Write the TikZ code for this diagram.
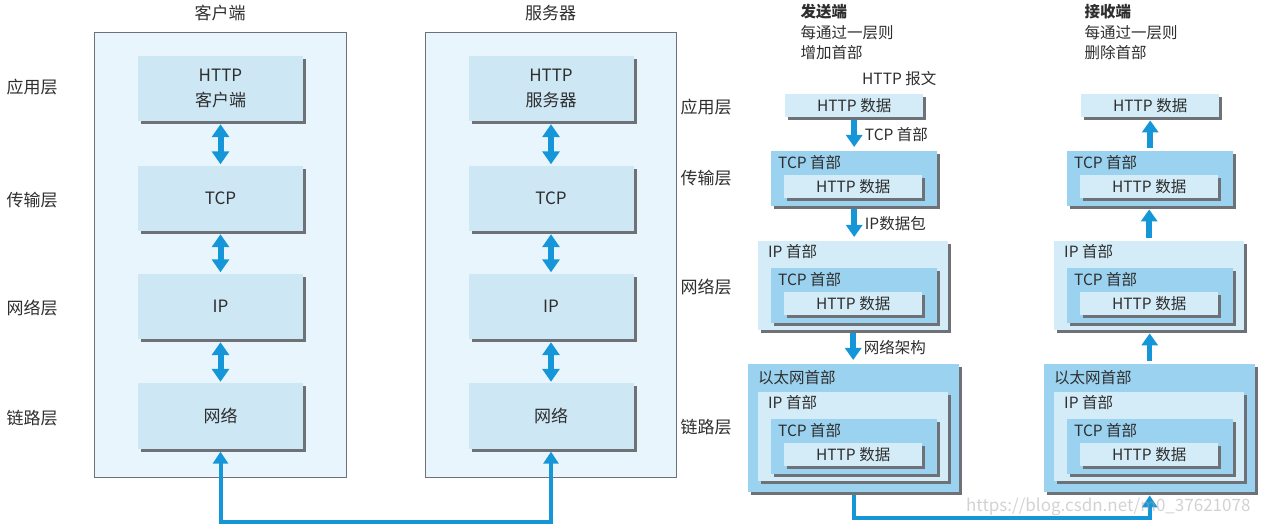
\documentclass[tikz,border=0pt]{standalone}
\usepackage{fontspec}
\setmainfont{Noto Sans CJK SC}
\usepackage{tikz}
\usetikzlibrary{arrows.meta,calc,positioning,shadows}

\definecolor{panelfill}{HTML}{E9F5FC}
\definecolor{layerfill}{HTML}{CDE7F5}
\definecolor{lightpkt}{HTML}{D3ECF8}
\definecolor{darkpkt}{HTML}{9BD2EF}
\definecolor{flowblue}{HTML}{1596D8}
\definecolor{shadowgray}{HTML}{6E7276}
\definecolor{txtgray}{HTML}{2E2E2E}

\begin{document}
\begin{tikzpicture}[x=1pt,y=-1pt,
  every node/.style={text=txtgray},
  panel/.style={draw=shadowgray,line width=0.9pt,fill=panelfill,minimum width=252pt,minimum height=445pt,inner sep=0pt},
  boxshadow/.style={drop shadow={shadow xshift=3pt,shadow yshift=-3pt,fill=shadowgray,opacity=1}},
  layer/.style={boxshadow,fill=layerfill,minimum width=165pt,minimum height=65pt,inner sep=0pt,align=center,font=\fontsize{17}{25}\selectfont},
  big/.style={font=\fontsize{17}{20}\selectfont},
  small/.style={font=\fontsize{15.5}{20.5}\selectfont},
  pkt/.style={boxshadow,anchor=north west,inner sep=0pt,small},
  httpbox/.style={pkt,fill=lightpkt,minimum width=138pt,minimum height=23pt},
  tcpbox/.style={pkt,fill=darkpkt,minimum width=166pt,minimum height=55pt},
  ipbox/.style={pkt,fill=lightpkt,minimum width=190pt,minimum height=89pt},
  ethbox/.style={pkt,fill=darkpkt,minimum width=211pt,minimum height=128pt},
  hdr/.style={anchor=west,inner sep=0pt,small},
  dbl/.style={draw=flowblue,line width=6pt,{Triangle[width=17pt,length=13pt]}-{Triangle[width=17pt,length=13pt]},shorten <=3pt,shorten >=1.5pt},
  flow/.style={draw=flowblue,line width=5.5pt,-{Triangle[width=16pt,length=12pt]},shorten <=3pt,shorten >=4pt},
  link/.style={draw=flowblue,line width=4pt,-{Triangle[width=15pt,length=12pt]},shorten <=3pt,shorten >=3pt}
]
\useasboundingbox (0,0) rectangle (1262,529);

% client and server
\node[panel] (client) at (220,254.5) {};
\node[panel,minimum width=251pt] (server) at (550.5,254.5) {};
\node[big] (clientT) at (220,13) {客户端};
\node[big] (serverT) at (550.5,13) {服务器};

\node[layer] (cH) at (220.5,88.5) {HTTP\\客户端};
\node[layer] (cT) at (220.5,198.5) {TCP};
\node[layer] (cI) at (220.5,306.5) {IP};
\node[layer] (cN) at (220.5,416) {网络};
\node[layer] (sH) at (551,88.5) {HTTP\\服务器};
\node[layer] (sT) at (551,198.5) {TCP};
\node[layer] (sI) at (551,306.5) {IP};
\node[layer] (sN) at (551,416) {网络};

\node[big] (appL) at (32,87) {应用层};
\node[big] (trnL) at (32,200) {传输层};
\node[big] (netL) at (32,308) {网络层};
\node[big] (lnkL) at (32,418) {链路层};
\node[big] (appR) at (706,107) {应用层};
\node[big] (trnR) at (706,178) {传输层};
\node[big] (netR) at (706,287) {网络层};
\node[big] (lnkR) at (706,427) {链路层};

\draw[dbl] (cH) -- (cT);
\draw[dbl] (cT) -- (cI);
\draw[dbl] (cI) -- (cN);
\draw[dbl] (sH) -- (sT);
\draw[dbl] (sT) -- (sI);
\draw[dbl] (sI) -- (sN);

\coordinate (lbase) at (0,522);
\draw[link,{Triangle[width=15pt,length=12pt]}-{Triangle[width=15pt,length=12pt]}] (cN.south) -- (cN.south |- lbase) -| (sN.south);

% sender
\node[small,anchor=north west,align=left] (sNote) at (797,1) {\textbf{发送端}\\每通过一层则\\增加首部};
\node[hdr] (msgL) at (862,79) {HTTP 报文};

\node[httpbox] (pH) at (785,94) {HTTP 数据};

\node[tcpbox] (pT) at (771,151) {};
\node[hdr] at ($(pT.north west)+(7,12)$) {TCP 首部};
\node[httpbox] (pTH) at ($(pT.north west)+(13,24)$) {HTTP 数据};

\node[ipbox] (pI) at (758,241) {};
\node[hdr] at ($(pI.north west)+(10,11)$) {IP 首部};
\node[tcpbox] (pIT) at ($(pI.north west)+(13,27)$) {};
\node[hdr] at ($(pIT.north west)+(7,12)$) {TCP 首部};
\node[httpbox] (pITH) at ($(pIT.north west)+(13,24)$) {HTTP 数据};

\node[ethbox] (pE) at (748,364) {};
\node[hdr] at ($(pE.north west)+(10,14)$) {以太网首部};
\node[ipbox] (pEI) at ($(pE.north west)+(10,28)$) {};
\node[hdr] at ($(pEI.north west)+(10,11)$) {IP 首部};
\node[tcpbox] (pEIT) at ($(pEI.north west)+(13,27)$) {};
\node[hdr] at ($(pEIT.north west)+(7,12)$) {TCP 首部};
\node[httpbox] (pEITH) at ($(pEIT.north west)+(13,24)$) {HTTP 数据};

\draw[flow] (pH.south) -- node[hdr,right=8pt] {TCP 首部} (pH.south |- pT.north);
\draw[flow] (pT.south) -- node[hdr,right=8pt] {IP数据包} (pT.south |- pI.north);
\draw[flow] (pI.south) -- node[hdr,right=8pt] {网络架构} (pI.south |- pE.north);

% receiver
\node[small,anchor=north west,align=left] (rNote) at (1081,1) {\textbf{接收端}\\每通过一层则\\删除首部};

\node[httpbox] (qH) at (1081,94) {HTTP 数据};

\node[tcpbox] (qT) at (1067,151) {};
\node[hdr] at ($(qT.north west)+(7,12)$) {TCP 首部};
\node[httpbox] (qTH) at ($(qT.north west)+(13,24)$) {HTTP 数据};

\node[ipbox] (qI) at (1054,241) {};
\node[hdr] at ($(qI.north west)+(10,11)$) {IP 首部};
\node[tcpbox] (qIT) at ($(qI.north west)+(13,27)$) {};
\node[hdr] at ($(qIT.north west)+(7,12)$) {TCP 首部};
\node[httpbox] (qITH) at ($(qIT.north west)+(13,24)$) {HTTP 数据};

\node[ethbox] (qE) at (1044,364) {};
\node[hdr] at ($(qE.north west)+(10,14)$) {以太网首部};
\node[ipbox] (qEI) at ($(qE.north west)+(10,28)$) {};
\node[hdr] at ($(qEI.north west)+(10,11)$) {IP 首部};
\node[tcpbox] (qEIT) at ($(qEI.north west)+(13,27)$) {};
\node[hdr] at ($(qEIT.north west)+(7,12)$) {TCP 首部};
\node[httpbox] (qEITH) at ($(qEIT.north west)+(13,24)$) {HTTP 数据};

\draw[flow,shorten >=3pt] (qT.north) -- (qT.north |- qH.south);
\draw[flow,shorten >=3pt] (qI.north) -- (qI.north |- qT.south);
\draw[flow,shorten >=3pt] (qE.north) -- (qE.north |- qI.south);

\coordinate (rbase) at (0,518);
\draw[link] (pE.south) -- (pE.south |- rbase) -| (qE.south);

\node[big,anchor=east,text=black!35,text opacity=0.5] (mark) at (1254,507) {https://blog.csdn.net/m0\_37621078};
\end{tikzpicture}
\end{document}
